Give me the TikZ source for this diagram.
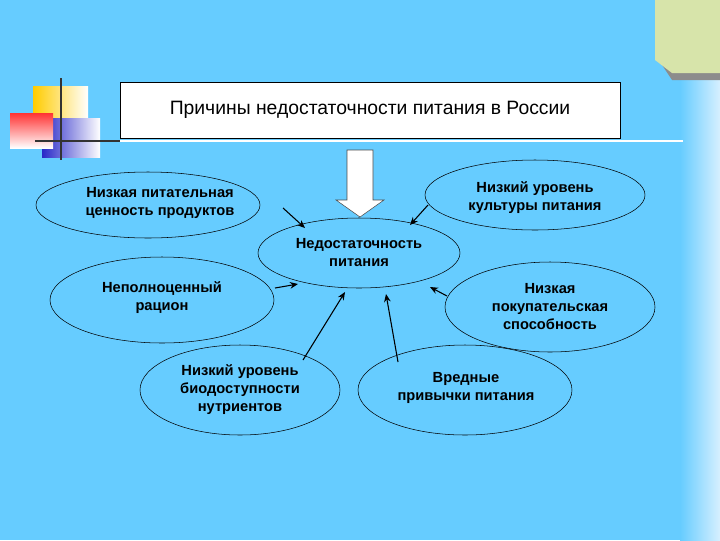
\documentclass[tikz,border=0pt]{standalone}
\usepackage{fontspec}
\setmainfont{Liberation Sans}
\usetikzlibrary{arrows.meta,shapes.geometric}
\definecolor{bg}{RGB}{102,204,255}
\begin{document}
\begin{tikzpicture}[x=0.75pt,y=-0.75pt,
 ell/.style={draw=black,ellipse,inner sep=0pt,font=\fontsize{11}{13.5}\selectfont\bfseries,align=center},
 lbl/.style={font=\fontsize{11}{13.5}\selectfont\bfseries,align=center,inner sep=0pt},
 arr/.style={-{Stealth[length=6pt,width=5pt]},thick}]
\useasboundingbox (0,0) rectangle (720,540);
\fill[bg] (0,0) rectangle (680,540);
\shade[left color=bg,right color={rgb,255:red,215;green,240;blue,255}] (680,0) rectangle (720,540);
\fill[gray!90] (660,62) -- (672,80) -- (720,80) -- (720,73) -- cycle;
\fill[color={rgb,255:red,215;green,228;blue,170}] (655,0) -- (720,0) -- (720,73) -- (672,73) -- (655,60) -- cycle;
% decoration
\shade[left color={rgb,255:red,255;green,204;blue,0},right color=white] (33,86) rectangle (88,143);
\shade[left color={rgb,255:red,40;green,40;blue,200},right color=white] (42,118) rectangle (100,157);
\shade[top color=red!80,bottom color=white] (10,113) rectangle (53,148);
\draw[line width=1.5pt,color=black!80] (61,78) -- (61,160);
\draw[line width=1.5pt,color=black!80] (35,141) -- (120,141);
\draw[line width=1.5pt,white] (120,141) -- (683,141);
% title
\node[draw=black,fill=white,minimum width=500*0.75pt,minimum height=56*0.75pt,inner sep=0pt,font=\fontsize{14.5}{16}\selectfont] (title) at (370,110) {Причины недостаточности питания в России};
% block arrow
\draw[fill=white,draw=black!70] (347,150) -- (373,150) -- (373,200) -- (384,200) -- (360,217) -- (336,200) -- (347,200) -- cycle;
% ellipses
\node[ell,minimum width=202*0.75pt,minimum height=70*0.75pt] (c) at (359,253) {Недостаточность\\питания};
\node[ell,minimum width=224*0.75pt,minimum height=66*0.75pt] (e1) at (148,205) {};
\node[lbl] at (160,203) {Низкая питательная\\ценность продуктов};
\node[ell,minimum width=220*0.75pt,minimum height=70*0.75pt] (e2) at (535,195) {};
\node[lbl] at (535,198) {Низкий уровень\\культуры питания};
\node[ell,minimum width=224*0.75pt,minimum height=86*0.75pt] (e3) at (162,300) {};
\node[lbl] at (162,298) {Неполноценный\\рацион};
\node[ell,minimum width=210*0.75pt,minimum height=90*0.75pt] (e4) at (550,307) {Низкая\\покупательская\\способность};
\node[ell,minimum width=200*0.75pt,minimum height=90*0.75pt] (e5) at (240,390) {Низкий уровень\\биодоступности\\нутриентов};
\node[ell,minimum width=214*0.75pt,minimum height=90*0.75pt] (e6) at (465,390) {};
\node[lbl] at (466,388) {Вредные\\привычки питания};
% arrows
\coordinate (a1s) at (283,208); \coordinate (a1e) at (305,228);
\coordinate (a2s) at (428,205); \coordinate (a2e) at (410,225);
\coordinate (a3s) at (275,288); \coordinate (a3e) at (298,284);
\coordinate (a4s) at (447,296); \coordinate (a4e) at (430,287);
\coordinate (a5s) at (303,360); \coordinate (a5e) at (345,292);
\coordinate (a6s) at (398,362); \coordinate (a6e) at (386,294);
\draw[arr] (a1s) -- (a1e);
\draw[arr] (a2s) -- (a2e);
\draw[arr] (a3s) -- (a3e);
\draw[arr] (a4s) -- (a4e);
\draw[arr] (a5s) -- (a5e);
\draw[arr] (a6s) -- (a6e);
\end{tikzpicture}
\end{document}
